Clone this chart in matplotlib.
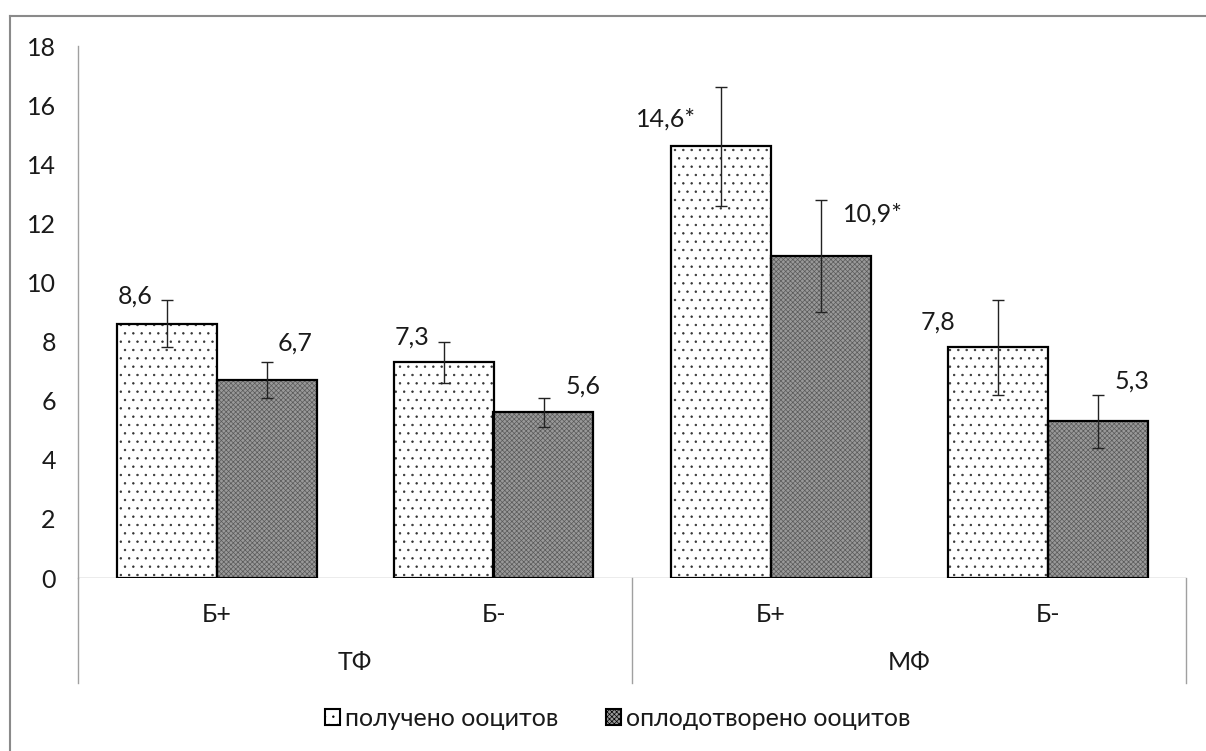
import matplotlib
matplotlib.use("Agg")
import matplotlib.pyplot as plt
from matplotlib.lines import Line2D
from matplotlib.patches import Patch
import numpy as np

plt.rcParams['font.family'] = ['Lato', 'Open Sans', 'DejaVu Sans']
plt.rcParams['hatch.linewidth'] = 0.5

groups = ["ТФ", "МФ"]
subcats = ["Б+", "Б-", "Б+", "Б-"]
series_names = ["получено ооцитов", "оплодотворено ооцитов"]
received = [8.6, 7.3, 14.6, 7.8]
fertilized = [6.7, 5.6, 10.9, 5.3]
received_err = [0.8, 0.7, 2.0, 1.6]
fertilized_err = [0.6, 0.5, 1.9, 0.9]
received_labels = ["8,6", "7,3", "14,6*", "7,8"]
fertilized_labels = ["6,7", "5,6", "10,9*", "5,3"]
yticks = [0, 2, 4, 6, 8, 10, 12, 14, 16, 18]

# label offsets (pixels) relative to bar top centre
rec_off = [(-31, -28), (-31, -25), (-55, -27), (-59, -25)]
fer_off = [(29, -37), (40, -26), (52, -42), (34, -40)]

W, H = 1206, 751
fig = plt.figure(figsize=(W / 100, H / 100), dpi=100)
ax = fig.add_axes([78 / W, 1 - 578 / H, (1186 - 78) / W, (578 - 46) / H])

x = np.arange(len(subcats))
bw = 100 / 277
FS = 18
TC = '#1a1a1a'

# received bars: white with sparse dots
ax.bar(x - bw / 2, received, bw, color='white', edgecolor='#333333', hatch='..', linewidth=0, zorder=2)
ax.bar(x - bw / 2, received, bw, fill=False, edgecolor='black', linewidth=1.6, zorder=3)
# fertilized bars: dense grey pattern
ax.bar(x + bw / 2, fertilized, bw, color='#999999', edgecolor='#5a5a5a', hatch='xxxxxxx', linewidth=0, zorder=2)
ax.bar(x + bw / 2, fertilized, bw, fill=False, edgecolor='black', linewidth=1.6, zorder=3)

ax.errorbar(x - bw / 2, received, yerr=received_err, fmt='none', ecolor='#222222',
            elinewidth=1.0, capsize=4.5, capthick=1.0, zorder=4)
ax.errorbar(x + bw / 2, fertilized, yerr=fertilized_err, fmt='none', ecolor='#222222',
            elinewidth=1.0, capsize=4.5, capthick=1.0, zorder=4)

px2pt = 72 / 100
for i in range(len(subcats)):
    ax.annotate(received_labels[i], (x[i] - bw / 2, received[i]),
                xytext=(rec_off[i][0] * px2pt, -rec_off[i][1] * px2pt), textcoords='offset points',
                ha='center', va='center', fontsize=FS, color=TC)
    ax.annotate(fertilized_labels[i], (x[i] + bw / 2, fertilized[i]),
                xytext=(fer_off[i][0] * px2pt, -fer_off[i][1] * px2pt), textcoords='offset points',
                ha='center', va='center', fontsize=FS, color=TC)

ax.set_xlim(-0.5, len(subcats) - 0.5)
ax.set_ylim(0, 18)
ax.set_yticks(yticks)
ax.set_yticklabels([str(v) for v in yticks], fontsize=FS, color=TC)
ax.tick_params(axis='y', length=0, pad=16)
ax.set_xticks([])
for s in ['top', 'right', 'bottom']:
    ax.spines[s].set_visible(False)
ax.spines['left'].set_color('#a0a0a0')
ax.spines['left'].set_linewidth(1.0)
ax.axhline(0, color='#a0a0a0', linewidth=1.0, zorder=1)

# two-level category axis
trans = ax.get_xaxis_transform()
sep_depth = (683 - 578) / (578 - 46)
for xs in [-0.5, 1.5, 3.5]:
    ax.plot([xs, xs], [0, -sep_depth], transform=trans, color='#a0a0a0', linewidth=1.0, clip_on=False)
sub_y = -(615 - 578) / (578 - 46)
grp_y = -(662 - 578) / (578 - 46)
for i, lab in enumerate(subcats):
    ax.text(x[i], sub_y, lab, transform=trans, ha='center', va='center', fontsize=FS, color=TC)
for g, lab in enumerate(groups):
    ax.text(0.5 + 2 * g, grp_y, lab, transform=trans, ha='center', va='center', fontsize=FS, color=TC)

# legend
handles = [Patch(facecolor='white', edgecolor='black', hatch='..', linewidth=1.5),
           Patch(facecolor='#999999', edgecolor='black', hatch='xxxxxxx', linewidth=1.5)]
leg = fig.legend(handles, series_names, loc='center', bbox_to_anchor=(618 / W, 1 - 718 / H),
                 ncol=2, frameon=False, fontsize=FS, handlelength=0.6, handleheight=0.6,
                 handletextpad=0.2, columnspacing=1.9)
for t in leg.get_texts():
    t.set_color(TC)

# outer chart border
fig.add_artist(Line2D([10 / W, 10 / W], [0, 1 - 16 / H], transform=fig.transFigure, color='#8a8a8a', linewidth=1.5))
fig.add_artist(Line2D([10 / W, 1], [1 - 16 / H, 1 - 16 / H], transform=fig.transFigure, color='#8a8a8a', linewidth=1.5))

fig.savefig('out.png', dpi=100)
